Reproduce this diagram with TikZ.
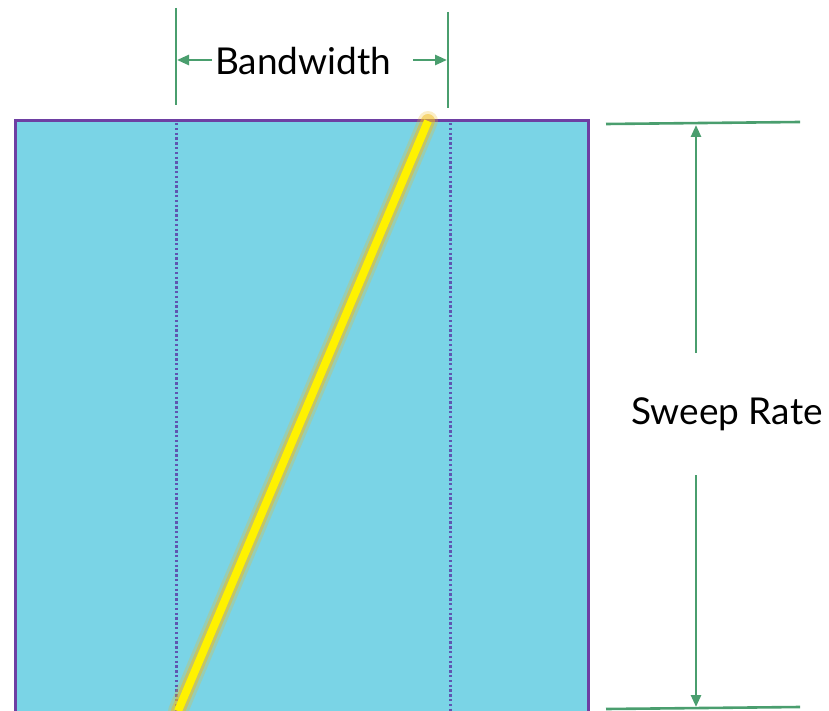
\documentclass[tikz,border=0pt]{standalone}
\usepackage{fontspec}
\setmainfont{Lato}
\usetikzlibrary{arrows.meta}
\begin{document}
\begin{tikzpicture}[x=1pt,y=-1pt,
  dimline/.style={draw=dimgreen,line width=2.6pt},
  dimarrow/.style={draw=dimgreen,line width=2.6pt,-{Triangle[length=12pt,width=10pt]}},
  label/.style={font=\fontsize{37}{40}\selectfont,text=black,inner sep=0pt},
  bandedge/.style={draw=dotpurple,line width=3pt,dash pattern=on 2.4pt off 2.4pt},
]
\definecolor{dimgreen}{HTML}{4A9E6E}
\definecolor{panelblue}{HTML}{7AD4E6}
\definecolor{panelborder}{HTML}{6E3FA3}
\definecolor{dotpurple}{HTML}{5F55B0}
\definecolor{glow}{HTML}{F0BC20}
\definecolor{chirp}{HTML}{FFF200}
\useasboundingbox (0,0) rectangle (829,711);

% spectrogram panel
\fill[panelblue] (15,120) rectangle (589,711);
\draw[panelborder,line width=3pt] (15.5,711) -- (15.5,120.5) -- (588.5,120.5) -- (588.5,711);

% band edges
\coordinate (bl) at (176,123);
\coordinate (bl2) at (176,711);
\coordinate (br) at (450,123);
\coordinate (br2) at (450,711);
\draw[bandedge] (bl) -- (bl2);
\draw[bandedge] (br) -- (br2);

% chirp trace with soft glow
\coordinate (c0) at (178,711);
\coordinate (c1) at (428,121);
\draw[glow,opacity=0.25,line width=20pt,line cap=round] (c0) -- (c1);
\draw[glow,opacity=0.5,line width=14pt,line cap=round] (c0) -- (c1);
\draw[chirp,line width=8pt] (c0) -- (c1);
\fill[white] (0,711) rectangle (829,730);

% bandwidth dimension
\coordinate (bwl0) at (176,8);
\coordinate (bwl1) at (176,105);
\coordinate (bwr0) at (448,12);
\coordinate (bwr1) at (448,108);
\draw[dimline] (bwl0) -- (bwl1);
\draw[dimline] (bwr0) -- (bwr1);
\node[label] (bw) at (303,61) {Bandwidth};
\coordinate (bwla) at (177,60);
\coordinate (bwra) at (447,60);
\draw[dimarrow] (212,60) -- (bwla);
\draw[dimarrow] (413,60) -- (bwra);

% sweep rate dimension
\coordinate (st0) at (606,124);
\coordinate (st1) at (800,122);
\coordinate (sb0) at (606,709);
\coordinate (sb1) at (800,707);
\draw[dimline] (st0) -- (st1);
\draw[dimline] (sb0) -- (sb1);
\node[label] (sr) at (727,414) {Sweep Rate};
\coordinate (sra) at (696,125);
\coordinate (srb) at (696,707);
\draw[dimarrow] (696,353) -- (sra);
\draw[dimarrow] (696,475) -- (srb);
\end{tikzpicture}
\end{document}
